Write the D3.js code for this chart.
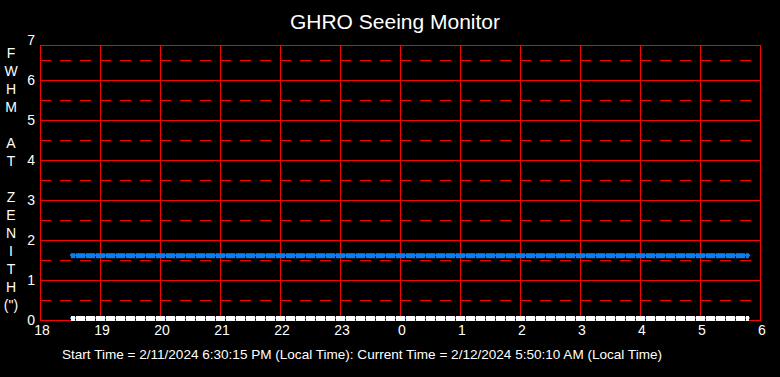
<!DOCTYPE html>
<html>
<head>
<meta charset="utf-8">
<script src="https://cdn.jsdelivr.net/npm/d3@7"></script>
<style>
  html, body { margin: 0; padding: 0; background: #000; }
  svg { display: block; }
</style>
</head>
<body>
<svg class="chart" width="780" height="377"></svg>
<script>
// sample times (local), every 10 minutes through the night
var times = [
  "18:30","18:40","18:50",
  "19:00","19:10","19:20","19:30","19:40","19:50",
  "20:00","20:10","20:20","20:30","20:40","20:50",
  "21:00","21:10","21:20","21:30","21:40","21:50",
  "22:00","22:10","22:20","22:30","22:40","22:50",
  "23:00","23:10","23:20","23:30","23:40","23:50",
  "0:00","0:10","0:20","0:30","0:40","0:50",
  "1:00","1:10","1:20","1:30","1:40","1:50",
  "2:00","2:10","2:20","2:30","2:40","2:50",
  "3:00","3:10","3:20","3:30","3:40","3:50",
  "4:00","4:10","4:20","4:30","4:40","4:50",
  "5:00","5:10","5:20","5:30","5:40","5:50"
];
// FWHM at zenith (arcsec)
var fwhmBlue = [
  1.62,1.62,1.62,
  1.62,1.62,1.62,1.62,1.62,1.62,
  1.62,1.62,1.62,1.62,1.62,1.62,
  1.62,1.62,1.62,1.62,1.62,1.62,
  1.62,1.62,1.62,1.62,1.62,1.62,
  1.62,1.62,1.62,1.62,1.62,1.62,
  1.62,1.62,1.62,1.62,1.62,1.62,
  1.62,1.62,1.62,1.62,1.62,1.62,
  1.62,1.62,1.62,1.62,1.62,1.62,
  1.62,1.62,1.62,1.62,1.62,1.62,
  1.62,1.62,1.62,1.62,1.62,1.62,
  1.62,1.62,1.62,1.62,1.62,1.62
];
var fwhmWhite = [
  0,0,0,
  0,0,0,0,0,0,
  0,0,0,0,0,0,
  0,0,0,0,0,0,
  0,0,0,0,0,0,
  0,0,0,0,0,0,
  0,0,0,0,0,0,
  0,0,0,0,0,0,
  0,0,0,0,0,0,
  0,0,0,0,0,0,
  0,0,0,0,0,0,
  0,0,0,0,0,0
];
var hourTicks = [18,19,20,21,22,23,24,25,26,27,28,29,30];
var hourLabels = ["18","19","20","21","22","23","0","1","2","3","4","5","6"];
var yTicks = [0,1,2,3,4,5,6,7];
var yHalf = [0.5,1.5,2.5,3.5,4.5,5.5,6.5];
var yTitle = ["F","W","H","M","","A","T","","Z","E","N","I","T","H","(\")"];
var title = "GHRO Seeing Monitor";
var footer = "Start Time = 2/11/2024 6:30:15 PM (Local Time): Current Time = 2/12/2024 5:50:10 AM (Local Time)";

var svg = d3.select("svg.chart");
var plotLeft = 40, plotRight = 760, plotTop = 45, plotBottom = 320;

var x = d3.scaleLinear().domain([18, 30]).range([plotLeft, plotRight]);
var y = d3.scaleLinear().domain([0, 7]).range([plotBottom, 40]);

// "HH:MM" -> hours since midnight, wrapping past midnight
function toHour(s) {
  var p = s.split(":");
  var h = +p[0] + (+p[1]) / 60;
  return h < 12 ? h + 24 : h;
}
var crisp = function(v) { return Math.round(v) + 0.5; };

var blueData = times.map(function(t, i) { return {t: toHour(t), v: fwhmBlue[i]}; });
var whiteData = times.map(function(t, i) { return {t: toHour(t), v: fwhmWhite[i]}; });

svg.append("rect").attr("width", 780).attr("height", 377).attr("fill", "#000");

var g = svg.append("g");

// dashed half-unit lines
g.selectAll("line.half").data(yHalf).enter().append("line")
    .attr("class", "half")
    .attr("x1", plotLeft).attr("x2", plotRight - 9)
    .attr("y1", function(d) { return crisp(y(d)); })
    .attr("y2", function(d) { return crisp(y(d)); })
    .attr("stroke", "#ff0000").attr("stroke-width", 1)
    .attr("stroke-dasharray", "11,9");

// solid integer lines
g.selectAll("line.hgrid").data(yTicks.filter(function(d) { return d > 0 && d < 7; })).enter().append("line")
    .attr("class", "hgrid")
    .attr("x1", plotLeft).attr("x2", plotRight)
    .attr("y1", function(d) { return crisp(y(d)); })
    .attr("y2", function(d) { return crisp(y(d)); })
    .attr("stroke", "#ff0000").attr("stroke-width", 1);

// hourly verticals
g.selectAll("line.vgrid").data(hourTicks.slice(1, -1)).enter().append("line")
    .attr("class", "vgrid")
    .attr("x1", function(d) { return crisp(x(d)); })
    .attr("x2", function(d) { return crisp(x(d)); })
    .attr("y1", plotTop).attr("y2", plotBottom)
    .attr("stroke", "#ff0000").attr("stroke-width", 1);

// frame
g.append("rect")
    .attr("x", plotLeft + 0.5).attr("y", plotTop + 0.5)
    .attr("width", plotRight - plotLeft).attr("height", plotBottom - plotTop)
    .attr("fill", "none").attr("stroke", "#ff0000").attr("stroke-width", 1);

// series
var line = d3.line()
    .x(function(d) { return x(d.t); })
    .y(function(d) { return y(d.v); });

var blue = "#0a7ff0";

function drawSeries(data, fill, dy) {
  var x0 = x(data[0].t) + 1, x1 = x(data[data.length - 1].t) - 1;
  g.append("path").datum(data)
      .attr("d", line)
      .attr("transform", "translate(0," + dy + ")")
      .attr("fill", "none").attr("stroke", blue).attr("stroke-width", 2);
  g.selectAll(null).data(data).enter().append("rect")
      .attr("x", function(d) { return Math.max(x(d.t) - 4, x0); })
      .attr("y", function(d) { return y(d.v) - 2 + dy; })
      .attr("width", function(d) { return Math.min(x(d.t) + 5, x1) - Math.max(x(d.t) - 4, x0); })
      .attr("height", 5)
      .attr("fill", fill);
}
drawSeries(blueData, blue, 0);
drawSeries(whiteData, "#ffffff", -2);

// axis labels
var tickFont = "'Liberation Sans', Arial, sans-serif";
svg.selectAll("text.xt").data(hourTicks).enter().append("text")
    .attr("class", "xt")
    .attr("x", function(d) { return x(d) + 2; })
    .attr("y", 335)
    .attr("text-anchor", "middle")
    .attr("fill", "#fff").attr("font-family", tickFont).attr("font-size", 14)
    .text(function(d, i) { return hourLabels[i]; });

svg.selectAll("text.yt").data(yTicks).enter().append("text")
    .attr("class", "yt")
    .attr("x", 35)
    .attr("y", function(d) { return y(d) + 5; })
    .attr("text-anchor", "end")
    .attr("fill", "#fff").attr("font-family", tickFont).attr("font-size", 14)
    .text(function(d) { return d; });

svg.selectAll("text.ylab").data(yTitle).enter().append("text")
    .attr("class", "ylab")
    .attr("x", 11)
    .attr("y", function(d, i) { return 58 + i * 18; })
    .attr("text-anchor", "middle")
    .attr("fill", "#fff").attr("font-family", tickFont).attr("font-size", 14)
    .text(function(d) { return d; });

svg.append("text")
    .attr("x", 395).attr("y", 29)
    .attr("text-anchor", "middle")
    .attr("fill", "#fff").attr("font-family", tickFont).attr("font-size", 21)
    .text(title);

svg.append("text")
    .attr("x", 62).attr("y", 359)
    .attr("textLength", 600).attr("lengthAdjust", "spacingAndGlyphs")
    .attr("fill", "#fff").attr("font-family", "'Liberation Sans Narrow', 'Arial Narrow', 'Liberation Sans', sans-serif")
    .attr("font-size", 13)
    .text(footer);
</script>
</body>
</html>
